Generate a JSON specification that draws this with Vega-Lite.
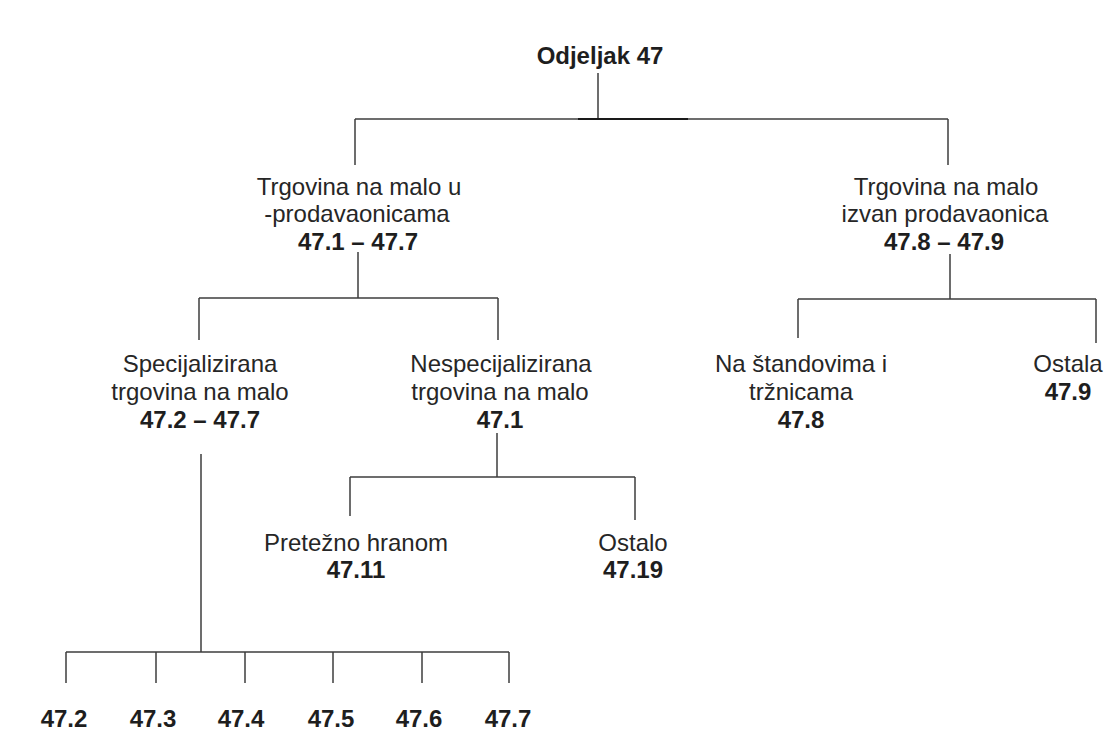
{
  "$schema": "https://vega.github.io/schema/vega-lite/v6.json",
  "width": 1110,
  "height": 745,
  "autosize": "none",
  "padding": 0,
  "background": "white",
  "config": {"view": {"stroke": null}},
  "datasets": {
    "lines": [
      {"x1": 598, "y1": 73, "x2": 598, "y2": 119},
      {"x1": 355, "y1": 119, "x2": 948, "y2": 119},
      {"x1": 355, "y1": 119, "x2": 355, "y2": 165},
      {"x1": 948, "y1": 119, "x2": 948, "y2": 165},
      {"x1": 358, "y1": 252, "x2": 358, "y2": 298},
      {"x1": 199, "y1": 298, "x2": 498, "y2": 298},
      {"x1": 199, "y1": 298, "x2": 199, "y2": 340},
      {"x1": 498, "y1": 298, "x2": 498, "y2": 340},
      {"x1": 950, "y1": 254, "x2": 950, "y2": 299},
      {"x1": 798, "y1": 299, "x2": 1096, "y2": 299},
      {"x1": 798, "y1": 299, "x2": 798, "y2": 338},
      {"x1": 1096, "y1": 299, "x2": 1096, "y2": 343},
      {"x1": 497, "y1": 433, "x2": 497, "y2": 477},
      {"x1": 350, "y1": 477, "x2": 635, "y2": 477},
      {"x1": 350, "y1": 477, "x2": 350, "y2": 516},
      {"x1": 635, "y1": 477, "x2": 635, "y2": 520},
      {"x1": 201, "y1": 454, "x2": 201, "y2": 652},
      {"x1": 66, "y1": 652, "x2": 509, "y2": 652},
      {"x1": 66, "y1": 652, "x2": 66, "y2": 683},
      {"x1": 156, "y1": 652, "x2": 156, "y2": 683},
      {"x1": 245, "y1": 652, "x2": 245, "y2": 683},
      {"x1": 333, "y1": 652, "x2": 333, "y2": 683},
      {"x1": 422, "y1": 652, "x2": 422, "y2": 683},
      {"x1": 509, "y1": 652, "x2": 509, "y2": 683}
    ],
    "emph": [
      {"x1": 578, "y1": 119, "x2": 688, "y2": 119}
    ],
    "labels": [
      {"x": 600, "y": 64, "label": "Odjeljak 47", "kind": "code"},
      {"x": 359, "y": 195, "label": "Trgovina na malo u", "kind": "name"},
      {"x": 357, "y": 222, "label": "-prodavaonicama", "kind": "name"},
      {"x": 358, "y": 250, "label": "47.1 – 47.7", "kind": "code"},
      {"x": 946, "y": 195, "label": "Trgovina na malo", "kind": "name"},
      {"x": 945, "y": 222, "label": "izvan prodavaonica", "kind": "name"},
      {"x": 944, "y": 250, "label": "47.8 – 47.9", "kind": "code"},
      {"x": 200, "y": 372, "label": "Specijalizirana", "kind": "name"},
      {"x": 200, "y": 400, "label": "trgovina na malo", "kind": "name"},
      {"x": 200, "y": 428, "label": "47.2 – 47.7", "kind": "code"},
      {"x": 501, "y": 372, "label": "Nespecijalizirana", "kind": "name"},
      {"x": 500, "y": 400, "label": "trgovina na malo", "kind": "name"},
      {"x": 500, "y": 428, "label": "47.1", "kind": "code"},
      {"x": 801, "y": 372, "label": "Na štandovima i", "kind": "name"},
      {"x": 801, "y": 400, "label": "tržnicama", "kind": "name"},
      {"x": 801, "y": 428, "label": "47.8", "kind": "code"},
      {"x": 1068, "y": 372, "label": "Ostala", "kind": "name"},
      {"x": 1068, "y": 400, "label": "47.9", "kind": "code"},
      {"x": 356, "y": 551, "label": "Pretežno hranom", "kind": "name"},
      {"x": 356, "y": 578, "label": "47.11", "kind": "code"},
      {"x": 633, "y": 551, "label": "Ostalo", "kind": "name"},
      {"x": 633, "y": 578, "label": "47.19", "kind": "code"},
      {"x": 64, "y": 727, "label": "47.2", "kind": "code"},
      {"x": 153, "y": 727, "label": "47.3", "kind": "code"},
      {"x": 241, "y": 727, "label": "47.4", "kind": "code"},
      {"x": 331, "y": 727, "label": "47.5", "kind": "code"},
      {"x": 419, "y": 727, "label": "47.6", "kind": "code"},
      {"x": 508, "y": 727, "label": "47.7", "kind": "code"}
    ]
  },
  "layer": [
    {
      "data": {"name": "lines"},
      "mark": {"type": "rule", "color": "#3c3c3c", "strokeWidth": 1.5},
      "encoding": {
        "x": {"field": "x1", "type": "quantitative", "scale": {"domain": [0, 1110], "nice": false, "zero": false}, "axis": null},
        "y": {"field": "y1", "type": "quantitative", "scale": {"domain": [0, 745], "nice": false, "zero": false, "reverse": true}, "axis": null},
        "x2": {"field": "x2"},
        "y2": {"field": "y2"}
      }
    },
    {
      "data": {"name": "emph"},
      "mark": {"type": "rule", "color": "#1a1a1a", "strokeWidth": 2.2},
      "encoding": {
        "x": {"field": "x1", "type": "quantitative", "axis": null},
        "y": {"field": "y1", "type": "quantitative", "axis": null},
        "x2": {"field": "x2"},
        "y2": {"field": "y2"}
      }
    },
    {
      "data": {"name": "labels"},
      "transform": [{"filter": "datum.kind === 'name'"}],
      "mark": {"type": "text", "align": "center", "baseline": "alphabetic", "font": "Liberation Sans", "fontSize": 24, "color": "#262626"},
      "encoding": {
        "x": {"field": "x", "type": "quantitative", "axis": null},
        "y": {"field": "y", "type": "quantitative", "axis": null},
        "text": {"field": "label"}
      }
    },
    {
      "data": {"name": "labels"},
      "transform": [{"filter": "datum.kind === 'code'"}],
      "mark": {"type": "text", "align": "center", "baseline": "alphabetic", "font": "Liberation Sans", "fontSize": 24, "fontWeight": "bold", "color": "#1e1e1e"},
      "encoding": {
        "x": {"field": "x", "type": "quantitative", "axis": null},
        "y": {"field": "y", "type": "quantitative", "axis": null},
        "text": {"field": "label"}
      }
    }
  ]
}
